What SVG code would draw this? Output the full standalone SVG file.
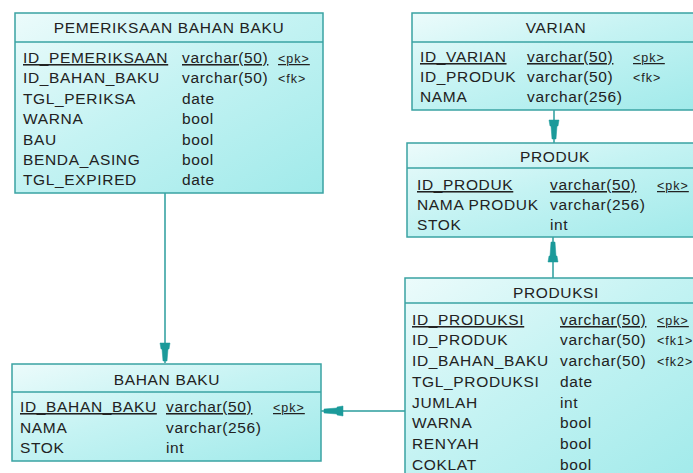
<svg xmlns="http://www.w3.org/2000/svg" width="693" height="473" viewBox="0 0 693 473">
<defs>
<linearGradient id="g" x1="0" y1="0" x2="1" y2="1">
<stop offset="0" stop-color="#ecfbfb"/>
<stop offset="0.45" stop-color="#c5f3f3"/>
<stop offset="1" stop-color="#a0eaea"/>
</linearGradient>
<style>
.box{fill:url(#g);stroke:#3aa3a3;stroke-width:1.5}
.sep{stroke:#3aa3a3;stroke-width:1.5}
text{font-family:"Liberation Sans",Arial,sans-serif;font-size:15.5px;fill:#222222;letter-spacing:0.65px}
.t{text-anchor:middle}
.k{font-size:12.5px;letter-spacing:1px}
.u{text-decoration:underline}
.c{stroke:#2a9d9d;stroke-width:1.5;fill:none}
.ah{fill:#1b9a9a;stroke:#1b9a9a;stroke-width:0.5}
</style>
</defs>
<rect width="693" height="473" fill="#ffffff"/>

<g id="connectors">
<line class="c" x1="165" y1="193" x2="165" y2="363"/>
<path class="ah" d="M160,343 L170,343 L169,349 L168,349 L167,361 L163,361 L162,349 L161,349 Z"/>
<line class="c" x1="554" y1="110" x2="554" y2="144"/>
<path class="ah" d="M549,120 L559,120 L558,126 L557,126 L556,139 L552,139 L551,126 L550,126 Z"/>
<line class="c" x1="553" y1="278" x2="553" y2="237"/>
<path class="ah" d="M548,262 L558,262 L557,256 L556,256 L555,242 L551,242 L550,256 L549,256 Z"/>
<line class="c" x1="405" y1="411" x2="321" y2="411"/>
<path class="ah" d="M343,406 L343,416 L337,415 L337,414 L324,413 L324,409 L337,408 L337,407 Z"/>
</g>

<g id="pemeriksaan_bahan_baku">
<rect class="box" x="15" y="13" width="308" height="180"/>
<line class="sep" x1="15" y1="42" x2="323" y2="42"/>
<text class="t" x="169" y="33">PEMERIKSAAN BAHAN BAKU</text>
<text class="u" x="23" y="63">ID_PEMERIKSAAN</text><text class="u" x="182" y="63">varchar(50)</text><text class="k u" x="278" y="63">&lt;pk&gt;</text>
<text x="23" y="83">ID_BAHAN_BAKU</text><text x="182" y="83">varchar(50)</text><text class="k" x="278" y="83">&lt;fk&gt;</text>
<text x="23" y="104">TGL_PERIKSA</text><text x="182" y="104">date</text>
<text x="23" y="124">WARNA</text><text x="182" y="124">bool</text>
<text x="23" y="145">BAU</text><text x="182" y="145">bool</text>
<text x="23" y="165">BENDA_ASING</text><text x="182" y="165">bool</text>
<text x="23" y="185">TGL_EXPIRED</text><text x="182" y="185">date</text>
</g>

<g id="varian">
<rect class="box" x="412" y="13" width="290" height="97"/>
<line class="sep" x1="412" y1="42" x2="702" y2="42"/>
<text class="t" x="556" y="33">VARIAN</text>
<text class="u" x="420" y="62">ID_VARIAN</text><text class="u" x="527" y="62">varchar(50)</text><text class="k u" x="633" y="62">&lt;pk&gt;</text>
<text x="420" y="82">ID_PRODUK</text><text x="527" y="82">varchar(50)</text><text class="k" x="633" y="82">&lt;fk&gt;</text>
<text x="420" y="102">NAMA</text><text x="527" y="102">varchar(256)</text>
</g>

<g id="produk">
<rect class="box" x="407" y="143" width="295" height="94"/>
<line class="sep" x1="407" y1="168" x2="702" y2="168"/>
<text class="t" x="555" y="162">PRODUK</text>
<text class="u" x="417" y="190">ID_PRODUK</text><text class="u" x="550" y="190">varchar(50)</text><text class="k u" x="657" y="190">&lt;pk&gt;</text>
<text x="417" y="210">NAMA PRODUK</text><text x="550" y="210">varchar(256)</text>
<text x="417" y="230">STOK</text><text x="550" y="230">int</text>
</g>

<g id="produksi">
<rect class="box" x="405" y="278" width="297" height="205"/>
<line class="sep" x1="405" y1="303" x2="702" y2="303"/>
<text class="t" x="556" y="298">PRODUKSI</text>
<text class="u" x="412" y="325">ID_PRODUKSI</text><text class="u" x="560" y="325">varchar(50)</text><text class="k u" x="657" y="325">&lt;pk&gt;</text>
<text x="412" y="345">ID_PRODUK</text><text x="560" y="345">varchar(50)</text><text class="k" x="657" y="345">&lt;fk1&gt;</text>
<text x="412" y="366">ID_BAHAN_BAKU</text><text x="560" y="366">varchar(50)</text><text class="k" x="657" y="366">&lt;fk2&gt;</text>
<text x="412" y="387">TGL_PRODUKSI</text><text x="560" y="387">date</text>
<text x="412" y="408">JUMLAH</text><text x="560" y="408">int</text>
<text x="412" y="428">WARNA</text><text x="560" y="428">bool</text>
<text x="412" y="449">RENYAH</text><text x="560" y="449">bool</text>
<text x="412" y="470">COKLAT</text><text x="560" y="470">bool</text>
</g>

<g id="bahan_baku">
<rect class="box" x="12" y="364" width="309" height="97"/>
<line class="sep" x1="12" y1="392" x2="321" y2="392"/>
<text class="t" x="167" y="385">BAHAN BAKU</text>
<text class="u" x="20" y="412">ID_BAHAN_BAKU</text><text class="u" x="166" y="412">varchar(50)</text><text class="k u" x="273" y="412">&lt;pk&gt;</text>
<text x="20" y="433">NAMA</text><text x="166" y="433">varchar(256)</text>
<text x="20" y="453">STOK</text><text x="166" y="453">int</text>
</g>
</svg>
